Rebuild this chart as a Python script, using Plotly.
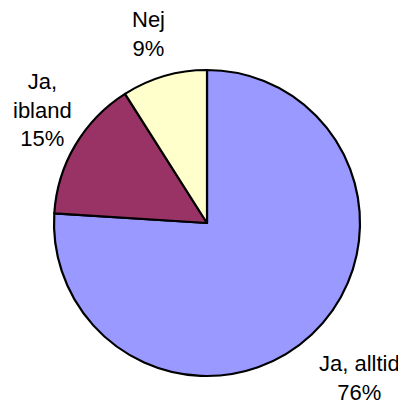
import plotly.graph_objects as go

labels = ["Ja, alltid", "Ja, ibland", "Nej"]
label_text = ["Ja, alltid<br>76%", "Ja,<br>ibland<br>15%", "Nej<br>9%"]
values = [76, 15, 9]
colors = ["#9999FF", "#993366", "#FFFFCC"]

# page has an 8px body margin, so the figure is 8px smaller than the window
W, H = 398, 399
cx, cy, R = 199, 215, 153  # pie center (pixels from figure top-left) and radius

fig = go.Figure(go.Pie(
    labels=labels, values=values, sort=False, direction="clockwise", rotation=0,
    marker=dict(colors=colors, line=dict(color="black", width=2.2)),
    textinfo="none", hoverinfo="label+percent", showlegend=False,
    domain=dict(x=[(cx - R) / W, (cx + R) / W], y=[(H - cy - R) / H, (H - cy + R) / H]),
))

# label offsets from the pie center (pixels, x right, y up)
label_offsets = [(152, -155), (-165, 113), (-59, 189)]
annotations = []
for txt, (dx, dy) in zip(label_text, label_offsets):
    annotations.append(dict(x=(cx + dx) / W, y=(H - cy + dy) / H, xref="paper", yref="paper",
                            text=txt, showarrow=False, xanchor="center", yanchor="middle",
                            align="center",
                            font=dict(family="Liberation Sans, Arial", size=22, color="black")))

fig.update_layout(width=W, height=H, margin=dict(l=0, r=0, t=0, b=0),
                  paper_bgcolor="white", plot_bgcolor="white", annotations=annotations)
fig.write_html("out.html")
